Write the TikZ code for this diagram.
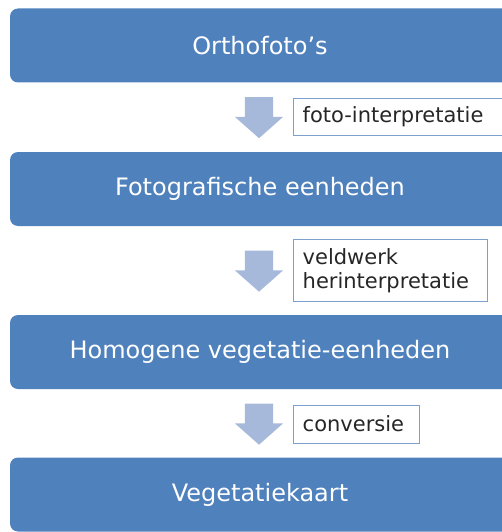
\documentclass[tikz,border=0pt]{standalone}
\usepackage{fontspec}
\setmainfont{DejaVu Sans}
\usetikzlibrary{shapes.arrows}
\definecolor{stapblauw}{RGB}{79,129,189}
\definecolor{pijlblauw}{RGB}{167,185,218}
\definecolor{randblauw}{RGB}{126,160,205}
\begin{document}
\begin{tikzpicture}[x=1pt, y=-1pt,
  stap/.style={fill=stapblauw, rounded corners=8pt, minimum width=500pt, minimum height=74pt,
    text=white, font=\fontsize{24}{28}\selectfont},
  pijl/.style={single arrow, rotate=-90, anchor=tail, fill=pijlblauw, inner sep=14pt, minimum height=41pt,
    single arrow head extend=10pt, single arrow tip angle=97},
  actie/.style={draw=randblauw, anchor=west, inner xsep=10pt, inner ysep=8pt, align=left,
    text=black!85, font=\fontsize{21}{24}\selectfont}]
\useasboundingbox (0,0) rectangle (501,532);
% stappen
\node[stap] (ortho) at (260,45.5) {Orthofoto's};
\node[stap] (foto) at (260,189) {Fotografische eenheden};
\node[stap] (homo) at (260,352) {Homogene vegetatie-eenheden};
\node[stap] (kaart) at (260,494.5) {Vegetatiekaart};
% pijlen en bewerkingen
\node[pijl] (p1) at (259,97) {};
\node[pijl] (p2) at (259,250.5) {};
\node[pijl] (p3) at (259,403.5) {};
\node[actie, text width=210pt, minimum height=37pt] (b1) at (292.5,116.5) {foto-interpretatie};
\node[actie, text width=174pt, inner ysep=9pt] (b2) at (292.5,270.5) {veldwerk\\herinterpretatie};
\node[actie, text width=106pt, minimum height=38pt] (b3) at (292.5,424) {conversie};
\end{tikzpicture}
\end{document}
